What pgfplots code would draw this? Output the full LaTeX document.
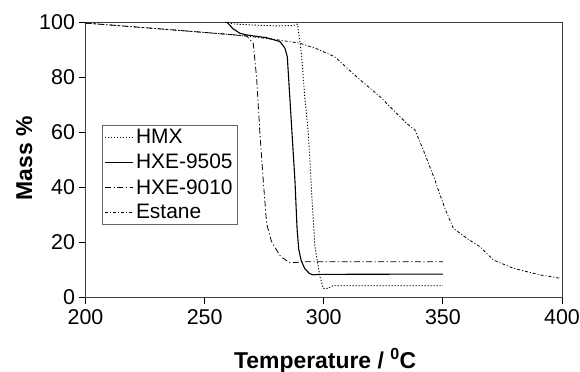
\documentclass[border=0pt]{standalone}
\usepackage{fontspec}
\setmainfont{Liberation Sans}
\usepackage{pgfplots}
\pgfplotsset{compat=1.18}
\begin{document}
\begin{tikzpicture}
\path[use as bounding box] (-85.5bp,-74.5bp) rectangle (494.5bp,297.5bp);
\begin{axis}[
  at={(0,0)}, anchor=south west,
  scale only axis, width=476.5bp, height=275.5bp,
  xmin=200, xmax=400, ymin=0, ymax=100,
  xtick={200,250,300,350,400}, ytick={0,20,40,60,80,100},
  xtick pos=bottom, ytick pos=left,
  tick align=outside, major tick length=6bp,
  tick style={black, line width=0.8pt},
  /pgf/number format/assume math mode=true,
  tick label style={font=\fontsize{21.5}{24}\selectfont},
  xticklabel style={yshift=-3bp},
  yticklabel style={xshift=-1bp},
  axis line style={black!75, line width=0.8pt},
  xlabel={\textbf{Temperature / \textsuperscript{0}C}},
  ylabel={\textbf{Mass \%}},
  xlabel style={font=\fontsize{23}{25}\selectfont, at={(axis description cs:0.503,-0.256)}, anchor=base},
  ylabel style={font=\fontsize{23}{25}\selectfont, at={(axis description cs:-0.112,0.506)}, anchor=base, rotate=0},
  legend style={at={(axis description cs:0.034,0.626)}, anchor=north west,
    draw=black!60, line width=0.8pt, font=\fontsize{21}{23}\selectfont,
    nodes={font=\fontsize{21}{23}\selectfont, inner ysep=1.5bp},
    row sep=6bp, inner sep=2.5bp},
  legend cell align=left,
  legend image code/.code={\draw[#1] (0cm,0cm) -- (1cm,0cm);},
  clip=false,
]
\addplot[black, line width=0.9pt, dash pattern=on 1.2bp off 1.8bp] coordinates {
 (258.5,99.9) (262,99.3) (270,98.9) (280,98.6) (287,98.7) (289,99.2)
 (289.5,96) (290.7,88) (292.1,72) (293.5,60) (294.5,45) (294.9,38)
 (296.3,18.4) (298.4,7.6) (299.8,3.3) (301.9,3.3) (304,4.4) (306,4.3) (350,4.3)};
\addlegendentry{HMX}
\addplot[black, line width=1.1pt] coordinates {
 (259.3,100) (262,97.5) (264.8,95.9) (267.7,95.3) (276,94.3) (281.6,92.9)
 (283.7,90.5) (284.7,87.4) (286.3,65) (287.9,42.6) (288.8,25) (289.5,17.5)
 (290.5,13.5) (292,10.5) (294,8.7) (295.6,8.2) (298,8.4) (350,8.5)};
\addlegendentry{HXE-9505}
\addplot[black, line width=0.8pt, dash pattern=on 6bp off 2.5bp on 1.2bp off 2.5bp] coordinates {
 (200,99.6) (230,97.6) (260,95.5) (267.7,94.9) (270.4,92.3) (271.8,80)
 (273.2,59.7) (274.6,42.6) (276,26.9) (278,20.5) (280.2,17.2) (282,14.8)
 (285.8,12.6) (288,12.7) (292,13) (350,13)};
\addlegendentry{HXE-9010}
\addplot[black, line width=0.8pt, dash pattern=on 3bp off 2bp on 1bp off 2bp] coordinates {
 (200,99.6) (230,97.6) (260,95.5) (267.7,94.9) (280,93.6) (290,92.3)
 (297,90.3) (304.6,87.4) (313.8,80.1) (323.6,72.9) (334.8,63.2) (338.3,60.8)
 (341.8,53.5) (346.7,42.6) (348.1,39) (351,32) (354.4,25.1) (360,21.5)
 (365.6,18.4) (371.2,13.6) (379.6,10.6) (390.8,8.2) (399.2,7)};
\addlegendentry{Estane}
\end{axis}
\end{tikzpicture}
\end{document}
